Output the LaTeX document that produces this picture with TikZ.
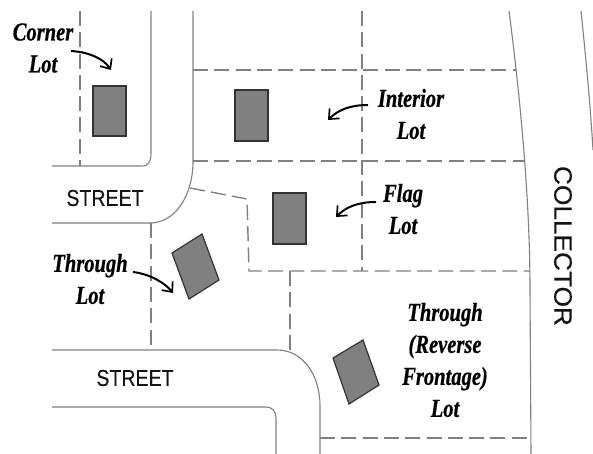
\documentclass[tikz,border=0pt]{standalone}
\usepackage{fontspec}
\usetikzlibrary{arrows.meta}
\newfontfamily\lotfont[FakeStretch=0.79,FakeBold=0.6]{Liberation Serif}
\newfontfamily\roadfont[FakeStretch=0.85,FakeBold=0.2]{Liberation Sans}
\newfontfamily\collfont[FakeStretch=1.05,FakeBold=0.2]{Liberation Sans}
\tikzset{
  road/.style={draw=black!50,line width=1.1pt},
  lotline/.style={draw=black!50,line width=1.4pt,dash pattern=on 15pt off 6.3pt},
  house/.style={draw=black!80,line width=1.2pt,fill=black!50,line join=miter},
  lotlabel/.style={font=\lotfont\fontsize{26}{32}\selectfont\bfseries\itshape,align=center,text=black,inner sep=0pt},
  streetlabel/.style={font=\roadfont\fontsize{23}{26}\selectfont,text=black!92,inner sep=0pt},
  pointer/.style={draw=black,line width=2pt,-{Straight Barb[length=8pt,width=14pt,line width=1.7pt]}}
}
\begin{document}
\begin{tikzpicture}[x=1pt,y=-1pt]
\useasboundingbox (0,0) rectangle (593,454);
% roads
\draw[road] (151,11) -- (151,153) .. controls (151,161) and (149,166) .. (142,166) -- (52,166);
\draw[road] (193,11) -- (193,161) .. controls (193,196) and (175,223) .. (150,223) -- (52,223);
\draw[road] (52,350) -- (277,350) .. controls (303,350) and (320,375) .. (320,406) -- (320,454);
\draw[road] (52,407) -- (266,407) .. controls (272,407) and (276,411) .. (276,418) -- (276,454);
\draw[road] (509,11) .. controls (518,80) and (530,190) .. (530,290) -- (531,454);
\draw[road] (581,11) .. controls (585,50) and (590,100) .. (593,150);
% lot lines
\draw[lotline] (80,11) -- (80,166);
\draw[lotline] (193,70) -- (516,70);
\draw[lotline] (193,161) -- (525,161);
\draw[lotline] (362,11) -- (362,271);
\draw[lotline] (190,188) -- (247,199) -- (249,271) -- (530,271);
\draw[lotline] (151,223) -- (151,350);
\draw[lotline] (290,271) -- (290,350);
\draw[lotline] (320,438) -- (531,438);
% houses
\draw[house] (93,86) rectangle (126,136);
\draw[house] (235,90) rectangle (268,141);
\draw[house] (273,193) rectangle (306,244);
\draw[house] (172,253) -- (202,234) -- (219,280) -- (189,299) -- cycle;
\draw[house] (333,358) -- (363,340) -- (379,385) -- (349,404) -- cycle;
% labels
\node[lotlabel] (corner) at (43,48) {Corner\\Lot};
\node[lotlabel] (interior) at (411,114) {Interior\\Lot};
\node[lotlabel] (flag) at (403,209) {Flag\\Lot};
\node[lotlabel] (through) at (90,279) {Through\\Lot};
\node[lotlabel] (reverse) at (445,360) {Through\\(Reverse\\Frontage)\\Lot};
\node[streetlabel] (streetA) at (105,198) {STREET};
\node[streetlabel] (streetB) at (135,378) {STREET};
\node[font=\collfont\fontsize{25}{28}\selectfont,text=black!92,inner sep=0pt,rotate=-90] (collector) at (563,246) {COLLECTOR};
% pointers
\coordinate (cornerA) at (71,51); \coordinate (cornerB) at (111,70);
\coordinate (interiorA) at (368,105); \coordinate (interiorB) at (328,120);
\coordinate (flagA) at (376,202); \coordinate (flagB) at (336,217);
\coordinate (throughA) at (133,272); \coordinate (throughB) at (173,293);
\draw[pointer] (cornerA) .. controls (88,52) and (103,58) .. (cornerB);
\draw[pointer] (interiorA) .. controls (350,105) and (338,110) .. (interiorB);
\draw[pointer] (flagA) .. controls (358,202) and (346,207) .. (flagB);
\draw[pointer] (throughA) .. controls (150,274) and (165,283) .. (throughB);
\end{tikzpicture}
\end{document}
